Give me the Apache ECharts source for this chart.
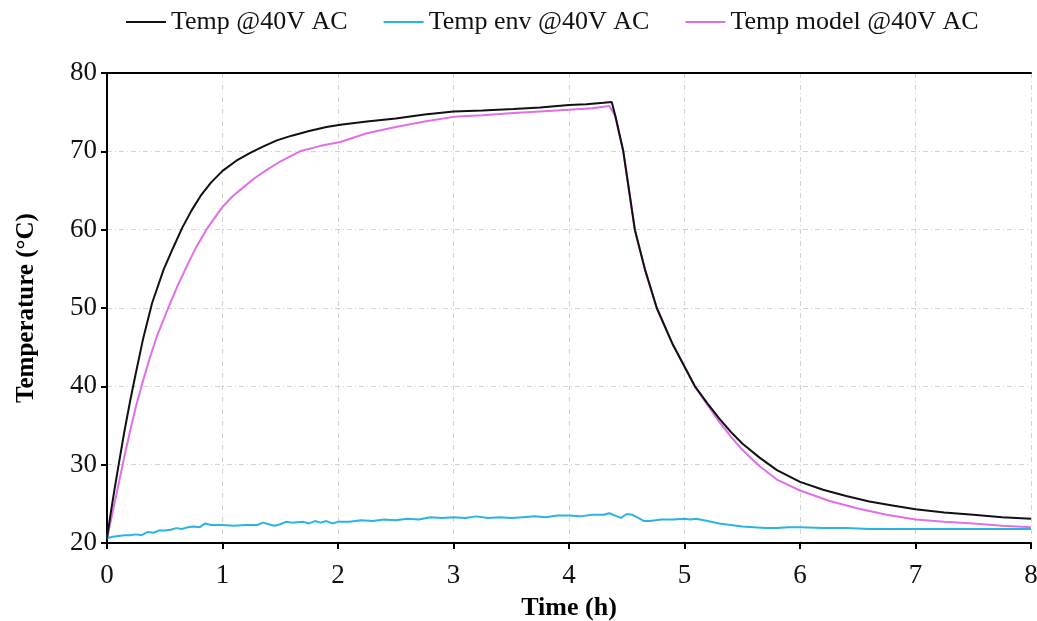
<!DOCTYPE html>
<html><head><meta charset="utf-8">
<script src="https://cdn.jsdelivr.net/npm/echarts@6/dist/echarts.min.js"></script>
<style>html,body{margin:0;padding:0;background:#fff}#c{width:1037px;height:621px}</style>
</head><body><div id="c"></div>
<script>
const seriesNames = ['Temp @40V AC', 'Temp env @40V AC', 'Temp model @40V AC'];
const xTicks = [0, 1, 2, 3, 4, 5, 6, 7, 8];
const yTicks = [20, 30, 40, 50, 60, 70, 80];

const tTemp = [0, 0.03, 0.06, 0.1, 0.15, 0.2, 0.24, 0.31, 0.39, 0.49, 0.57, 0.65, 0.73, 0.81, 0.9, 1.0, 1.12, 1.24, 1.35, 1.47, 1.6, 1.75, 1.9, 2.02, 2.25, 2.5, 2.75, 3.0, 3.25, 3.52, 3.75, 4.0, 4.15, 4.3, 4.37, 4.40, 4.47, 4.52, 4.57, 4.66, 4.76, 4.9, 5.09, 5.2, 5.3, 5.4, 5.5, 5.65, 5.8, 6.0, 6.2, 6.4, 6.6, 6.8, 7.0, 7.25, 7.5, 7.75, 8.0];
const vTemp = [20.6, 23.6, 26.4, 29.9, 34.2, 38.1, 41.0, 45.9, 50.6, 54.9, 57.6, 60.2, 62.4, 64.3, 66.0, 67.5, 68.8, 69.8, 70.6, 71.4, 72.0, 72.6, 73.1, 73.4, 73.8, 74.2, 74.7, 75.1, 75.2, 75.4, 75.6, 75.9, 76.0, 76.2, 76.3, 74.6, 70.0, 65.0, 60.0, 54.8, 50.0, 45.3, 40.0, 37.8, 35.9, 34.2, 32.7, 30.9, 29.3, 27.8, 26.8, 26.0, 25.3, 24.8, 24.3, 23.9, 23.6, 23.3, 23.1];

const tModel = [0, 0.05, 0.1, 0.15, 0.2, 0.25, 0.31, 0.37, 0.43, 0.53, 0.61, 0.69, 0.77, 0.86, 1.0, 1.09, 1.18, 1.28, 1.38, 1.5, 1.67, 1.85, 2.02, 2.25, 2.5, 2.75, 3.0, 3.25, 3.52, 3.75, 4.0, 4.2, 4.35, 4.40, 4.47, 4.52, 4.57, 4.66, 4.76, 4.9, 5.09, 5.2, 5.3, 5.4, 5.5, 5.65, 5.8, 6.0, 6.25, 6.5, 6.75, 7.0, 7.25, 7.5, 7.75, 8.0];
const vModel = [20.6, 24.0, 27.5, 31.0, 34.3, 37.4, 40.6, 43.6, 46.3, 50.0, 52.8, 55.3, 57.7, 60.0, 62.9, 64.3, 65.4, 66.6, 67.6, 68.7, 70.0, 70.7, 71.2, 72.3, 73.1, 73.8, 74.4, 74.6, 74.9, 75.1, 75.3, 75.5, 75.8, 74.5, 70.0, 65.0, 60.0, 54.8, 50.0, 45.3, 40.0, 37.6, 35.5, 33.6, 31.9, 29.8, 28.1, 26.7, 25.4, 24.4, 23.6, 23.0, 22.7, 22.5, 22.2, 22.0];

const tEnv = [0, 0.05, 0.1, 0.15, 0.2, 0.25, 0.3, 0.35, 0.4, 0.45,
  0.5, 0.55, 0.6, 0.65, 0.7, 0.75, 0.8, 0.85, 0.9, 0.95,
  1.0, 1.1, 1.2, 1.3, 1.35, 1.4, 1.45, 1.5, 1.55, 1.6,
  1.7, 1.75, 1.8, 1.85, 1.9, 1.95, 2.0, 2.1, 2.2, 2.3,
  2.4, 2.5, 2.6, 2.7, 2.8, 2.9, 3.0, 3.1, 3.2, 3.3,
  3.4, 3.5, 3.6, 3.7, 3.8, 3.9, 4.0, 4.1, 4.2, 4.3,
  4.35, 4.4, 4.45, 4.5, 4.55, 4.6, 4.65, 4.7, 4.8, 4.9,
  5.0, 5.05, 5.1, 5.2, 5.3, 5.4, 5.5, 5.6, 5.7, 5.8,
  5.9, 6.0, 6.2, 6.4, 6.6, 7.0, 7.5, 8.0];
const vEnv = [20.6, 20.8, 20.9, 21.0, 21.0, 21.1, 21.0, 21.4, 21.3, 21.6,
  21.6, 21.7, 21.9, 21.8, 22.0, 22.1, 22.0, 22.5, 22.3, 22.3,
  22.3, 22.2, 22.3, 22.3, 22.6, 22.4, 22.2, 22.4, 22.7, 22.6,
  22.7, 22.5, 22.8, 22.6, 22.8, 22.5, 22.7, 22.7, 22.9, 22.8,
  23.0, 22.9, 23.1, 23.0, 23.3, 23.2, 23.3, 23.2, 23.4, 23.2,
  23.3, 23.2, 23.3, 23.4, 23.3, 23.5, 23.5, 23.4, 23.6, 23.6,
  23.8, 23.5, 23.2, 23.7, 23.6, 23.2, 22.8, 22.8, 23.0, 23.0,
  23.1, 23.0, 23.1, 22.8, 22.5, 22.3, 22.1, 22.0, 21.9, 21.9,
  22.0, 22.0, 21.9, 21.9, 21.8, 21.8, 21.8, 21.8];

const zip = (t, v) => t.map((x, i) => [x, v[i]]);
const font = '"Liberation Serif", "Times New Roman", serif';
const gridLine = { show: true, lineStyle: { color: '#d2d2d2', width: 1, type: [5, 3, 1, 3] } };
const frameLine = { show: true, lineStyle: { color: '#000', width: 2 } };

const chart = echarts.init(document.getElementById('c'), null, { renderer: 'canvas' });
chart.setOption({
  animation: false,
  backgroundColor: '#fff',
  textStyle: { fontFamily: font },
  legend: {
    top: 4, left: 121, itemGap: 36, itemWidth: 40, itemHeight: 2,
    icon: 'rect',
    textStyle: { fontFamily: font, fontSize: 26, color: '#111' },
    data: seriesNames
  },
  grid: { left: 107, right: 6, top: 73, bottom: 78, outerBoundsMode: 'none', containLabel: false },
  xAxis: [{
    type: 'value', min: xTicks[0], max: xTicks[xTicks.length - 1], interval: 1,
    name: 'Time (h)', nameLocation: 'middle', nameGap: 52,
    nameTextStyle: { fontFamily: font, fontSize: 26, fontWeight: 'bold', color: '#000' },
    axisLine: frameLine,
    axisTick: { show: true, length: 6, lineStyle: { color: '#000', width: 2 } },
    axisLabel: { fontFamily: font, fontSize: 27, color: '#111', margin: 19 },
    splitLine: gridLine
  }, {
    type: 'value', position: 'top', min: xTicks[0], max: xTicks[xTicks.length - 1], interval: 1,
    axisLine: frameLine, axisTick: { show: false }, axisLabel: { show: false }, splitLine: { show: false }
  }],
  yAxis: [{
    type: 'value', min: yTicks[0], max: yTicks[yTicks.length - 1], interval: 10,
    name: 'Temperature (°C)', nameLocation: 'middle', nameGap: 68,
    nameTextStyle: { fontFamily: font, fontSize: 25, fontWeight: 'bold', color: '#000' },
    axisLine: frameLine,
    axisTick: { show: true, length: 6, lineStyle: { color: '#000', width: 2 } },
    axisLabel: { fontFamily: font, fontSize: 27, color: '#111', margin: 10 },
    splitLine: gridLine
  }, {
    type: 'value', position: 'right', min: yTicks[0], max: yTicks[yTicks.length - 1], interval: 10,
    axisLine: frameLine, axisTick: { show: false }, axisLabel: { show: false }, splitLine: { show: false }
  }],
  series: [
    { name: seriesNames[0], type: 'line', data: zip(tTemp, vTemp), showSymbol: false, symbol: 'none', z: 4,
      lineStyle: { color: '#111', width: 2 }, itemStyle: { color: '#111' } },
    { name: seriesNames[1], type: 'line', data: zip(tEnv, vEnv), showSymbol: false, symbol: 'none', z: 2,
      lineStyle: { color: '#2bb4e0', width: 2 }, itemStyle: { color: '#2bb4e0' } },
    { name: seriesNames[2], type: 'line', data: zip(tModel, vModel), showSymbol: false, symbol: 'none', z: 3,
      lineStyle: { color: '#e070e6', width: 2 }, itemStyle: { color: '#e070e6' } }
  ]
});
</script></body></html>
